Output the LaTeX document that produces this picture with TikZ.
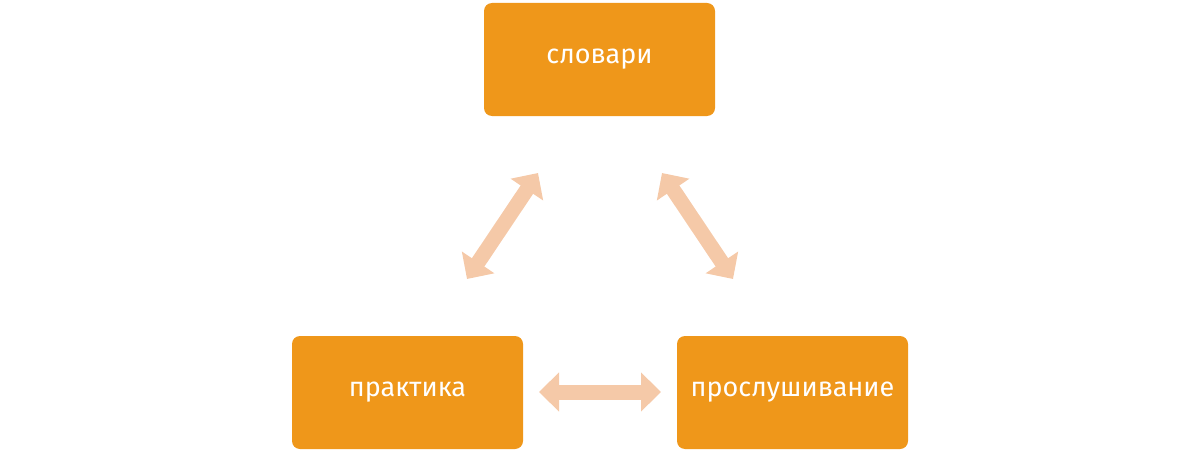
\documentclass[tikz,border=0pt]{standalone}
\usepackage{fontspec}
\setmainfont{Fira Sans}
\usetikzlibrary{arrows.meta}
\definecolor{boxor}{HTML}{EF971A}
\definecolor{arrpale}{HTML}{F5C9A8}
\begin{document}
\begin{tikzpicture}[x=1pt,y=-1pt,
  box/.style={fill=boxor,rounded corners=8pt,text=white,minimum width=231pt,minimum height=113pt,inner sep=0pt,font=\fontsize{27}{30}\selectfont},
  link/.style={draw=arrpale,line width=15pt,{Triangle[width=38pt,length=20pt]}-{Triangle[width=38pt,length=20pt]}}]
\useasboundingbox (0,0) rectangle (1200,452);
\node[box] (a) at (599.5,59.5) {словари};
\node[box] (b) at (407.5,392.5) {практика};
\node[box] (c) at (792.5,392.5) {прослушивание};
\coordinate (l1) at (467,279);
\coordinate (l2) at (538,173);
\coordinate (r1) at (662,173);
\coordinate (r2) at (733,279);
\coordinate (h1) at (539,392);
\coordinate (h2) at (661,392);
\draw[link] (l1) -- (l2);
\draw[link] (r1) -- (r2);
\draw[link] (h1) -- (h2);
\end{tikzpicture}
\end{document}
